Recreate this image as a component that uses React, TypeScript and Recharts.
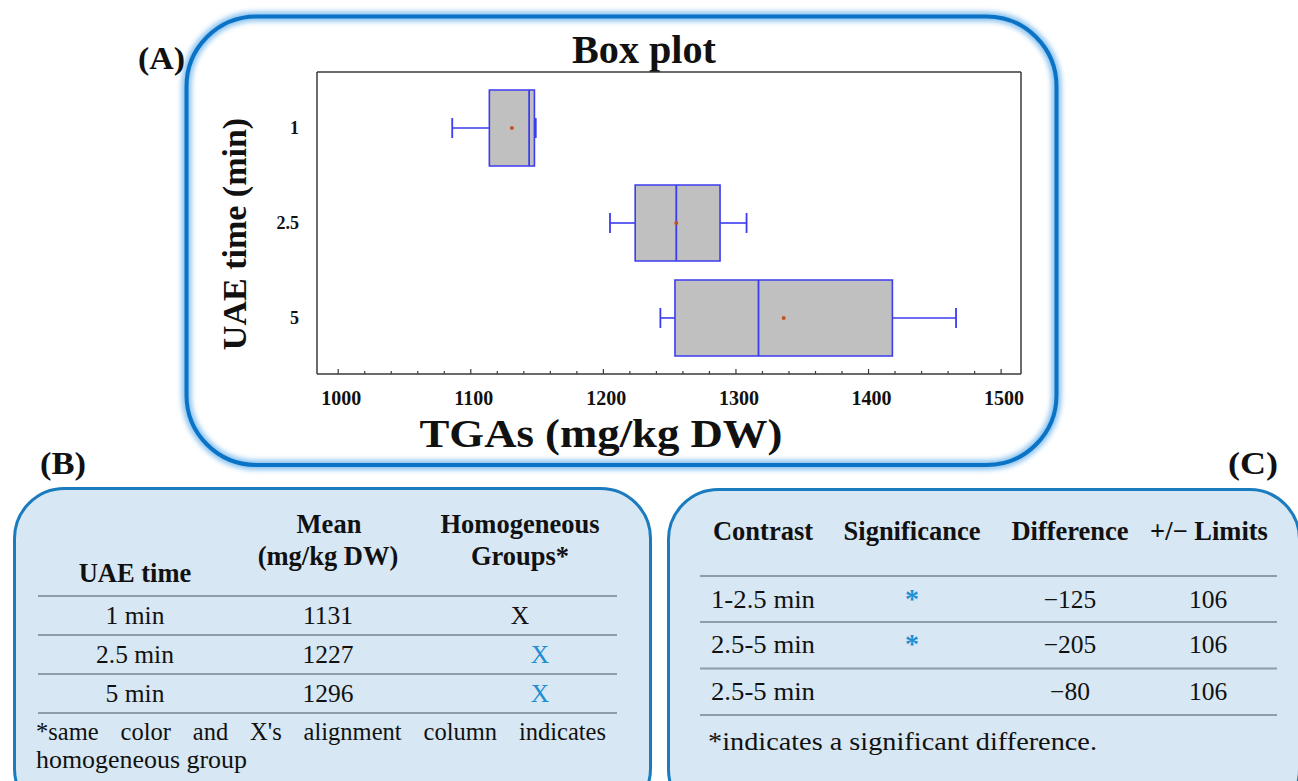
import React from "react";
import {
  ComposedChart,
  XAxis,
  YAxis,
  Scatter,
  ReferenceArea,
  ReferenceLine,
} from "recharts";

// ---------- data ----------
const uaeTimes = ["1", "2.5", "5"];
const whiskerLow = [1086, 1205, 1243];
const q1Vals = [1114, 1224, 1254];
const medianVals = [1144, 1255, 1317];
const q3Vals = [1148, 1288, 1418];
const whiskerHigh = [1149, 1308, 1466];
const meanVals = [1131, 1255, 1336];

const xTicks = [
  1000, 1020, 1040, 1060, 1080, 1100, 1120, 1140, 1160, 1180, 1200, 1220, 1240,
  1260, 1280, 1300, 1320, 1340, 1360, 1380, 1400, 1420, 1440, 1460, 1480, 1500,
];
const yTicks = [1, 2, 3];

// table B
const tableBTimes = ["1 min", "2.5 min", "5 min"];
const tableBMeans = ["1131", "1227", "1296"];
const tableBGroupsBlue = [false, true, true];

// table C
const contrasts = ["1-2.5 min", "2.5-5 min", "2.5-5 min"];
const significant = [true, true, false];
const differences = ["\u2212125", "\u2212205", "\u221280"];
const limits = ["106", "106", "106"];

const SERIF = "'Liberation Serif', 'Times New Roman', serif";
const BOX_STROKE = "#3b3bef";
const FRAME = "#3a3a3a";
const BLUE_TXT = "#1f8fd2";

const chartData = uaeTimes.map((t, i) => ({ x: meanVals[i], y: i + 1, t }));

const BottomTick = (props: any) => {
  const { x, y, payload } = props;
  const v = payload.value;
  const major = v % 100 === 0;
  return (
    <g>
      <line x1={x} x2={x} y1={y} y2={y - (major ? 5 : 3)} stroke={FRAME} strokeWidth={1.2} />
      {major && (
        <text
          x={x + 3}
          y={y + 31}
          textAnchor="middle"
          fontFamily={SERIF}
          fontWeight="bold"
          fontSize={20}
          fill="#111"
        >
          {v}
        </text>
      )}
    </g>
  );
};

const TopTick = (props: any) => {
  const { x, y, payload } = props;
  const major = payload.value % 100 === 0;
  return (
    <line x1={x} x2={x} y1={y} y2={y + (major ? 5 : 3)} stroke={FRAME} strokeWidth={1.2} />
  );
};

const MeanDot = (props: any) => {
  const { cx, cy } = props;
  return <circle cx={cx} cy={cy} r={2} fill="#c4521f" />;
};

function BoxPlot() {
  const h = 0.4;
  const cap = 0.105;
  return (
    <ComposedChart
      width={874}
      height={452}
      data={chartData}
      margin={{ top: 47, right: 28, bottom: 43, left: 82 }}
    >
      <XAxis
        type="number"
        dataKey="x"
        domain={[984, 1515]}
        allowDataOverflow
        ticks={xTicks}
        interval={0}
        tickSize={0}
        tickMargin={0}
        tickLine={false}
        height={50}
        axisLine={{ stroke: FRAME, strokeWidth: 1.5 }}
        tick={<BottomTick />}
      />
      <XAxis
        xAxisId="top"
        orientation="top"
        type="number"
        domain={[984, 1515]}
        allowDataOverflow
        ticks={xTicks}
        interval={0}
        tickSize={0}
        tickMargin={0}
        tickLine={false}
        height={10}
        axisLine={{ stroke: FRAME, strokeWidth: 1.5 }}
        tick={<TopTick />}
      />
      <YAxis
        type="number"
        dataKey="y"
        domain={[0.41, 3.59]}
        allowDataOverflow
        reversed
        ticks={yTicks}
        interval={0}
        width={50}
        tickLine={false}
        tickMargin={12}
        axisLine={{ stroke: FRAME, strokeWidth: 1.5 }}
        tickFormatter={(v: number) => uaeTimes[v - 1]}
        tick={{ fontFamily: SERIF, fontWeight: "bold", fontSize: 18, fill: "#111" }}
      />
      <YAxis
        yAxisId="right"
        orientation="right"
        type="number"
        domain={[0.41, 3.59]}
        allowDataOverflow
        reversed
        width={10}
        tick={false}
        tickLine={false}
        axisLine={{ stroke: FRAME, strokeWidth: 1.5 }}
      />
      {uaeTimes.map((t, i) => {
        const p = i + 1;
        return (
          <ReferenceArea
            key={"box" + t}
            x1={q1Vals[i]}
            x2={q3Vals[i]}
            y1={p - h}
            y2={p + h}
            fill="#c0c0c0"
            fillOpacity={1}
            stroke={BOX_STROKE}
            strokeWidth={1.6}
          />
        );
      })}
      {uaeTimes.map((t, i) => {
        const p = i + 1;
        return (
          <ReferenceLine
            key={"med" + t}
            segment={[
              { x: medianVals[i], y: p - h },
              { x: medianVals[i], y: p + h },
            ]}
            stroke={BOX_STROKE}
            strokeWidth={1.8}
          />
        );
      })}
      {uaeTimes.map((t, i) => {
        const p = i + 1;
        return (
          <ReferenceLine
            key={"wl" + t}
            segment={[
              { x: whiskerLow[i], y: p },
              { x: q1Vals[i], y: p },
            ]}
            stroke={BOX_STROKE}
            strokeWidth={1.6}
          />
        );
      })}
      {uaeTimes.map((t, i) => {
        const p = i + 1;
        return (
          <ReferenceLine
            key={"wh" + t}
            segment={[
              { x: q3Vals[i], y: p },
              { x: whiskerHigh[i], y: p },
            ]}
            stroke={BOX_STROKE}
            strokeWidth={1.6}
          />
        );
      })}
      {uaeTimes.map((t, i) => {
        const p = i + 1;
        return (
          <ReferenceLine
            key={"cl" + t}
            segment={[
              { x: whiskerLow[i], y: p - cap },
              { x: whiskerLow[i], y: p + cap },
            ]}
            stroke={BOX_STROKE}
            strokeWidth={1.8}
          />
        );
      })}
      {uaeTimes.map((t, i) => {
        const p = i + 1;
        return (
          <ReferenceLine
            key={"ch" + t}
            segment={[
              { x: whiskerHigh[i], y: p - cap },
              { x: whiskerHigh[i], y: p + cap },
            ]}
            stroke={BOX_STROKE}
            strokeWidth={1.8}
          />
        );
      })}
      <Scatter data={chartData} dataKey="x" shape={<MeanDot />} isAnimationActive={false} />
    </ComposedChart>
  );
}

export default function App() {
  const bRules = [596, 635, 674, 713];
  const bRowBase = [624, 663, 702];
  const cRules = [576, 622, 668.5, 715];
  const cRowBase = [608, 653, 700];
  const HB = 26.5; // bold header size
  const RS = 25.5; // row text size
  return (
    <div
      style={{
        position: "absolute",
        left: 0,
        top: 0,
        width: 1298,
        height: 781,
        overflow: "hidden",
        background: "#fff",
      }}
    >
      <svg width={1298} height={781} style={{ position: "absolute", left: 0, top: 0 }}>
        <defs>
          <filter id="glow" x="-5%" y="-5%" width="110%" height="110%">
            <feGaussianBlur stdDeviation="2.5" />
          </filter>
        </defs>
        {/* Panel A */}
        <rect x={186.5} y={16.5} width={870} height={448.5} rx={70} fill="#fff" />
        <rect
          x={186.5}
          y={16.5}
          width={870}
          height={448.5}
          rx={70}
          fill="none"
          stroke="#8cc4f0"
          strokeWidth={10}
          filter="url(#glow)"
        />
        <rect
          x={186.5}
          y={16.5}
          width={870}
          height={448.5}
          rx={70}
          fill="none"
          stroke="#0b73c6"
          strokeWidth={4}
        />
        <text
          x={138}
          y={69}
          fontFamily={SERIF}
          fontWeight="bold"
          fontSize={31}
          fill="#111"
          textLength={47}
          lengthAdjust="spacingAndGlyphs"
        >
          (A)
        </text>
        <text
          x={644}
          y={63}
          textAnchor="middle"
          fontFamily={SERIF}
          fontWeight="bold"
          fontSize={39}
          fill="#111"
          textLength={144}
          lengthAdjust="spacingAndGlyphs"
        >
          Box plot
        </text>
        <text
          x={246}
          y={234}
          transform="rotate(-90, 246, 234)"
          textAnchor="middle"
          fontFamily={SERIF}
          fontWeight="bold"
          fontSize={34}
          fill="#111"
        >
          UAE time (min)
        </text>
        <text
          x={601}
          y={447}
          textAnchor="middle"
          fontFamily={SERIF}
          fontWeight="bold"
          fontSize={39}
          fill="#111"
          textLength={363}
          lengthAdjust="spacingAndGlyphs"
        >
          TGAs (mg/kg DW)
        </text>

        {/* Panel B */}
        <text
          x={40}
          y={474}
          fontFamily={SERIF}
          fontWeight="bold"
          fontSize={31}
          fill="#111"
          textLength={46}
          lengthAdjust="spacingAndGlyphs"
        >
          (B)
        </text>
        <rect
          x={14.5}
          y={488.5}
          width={636}
          height={330}
          rx={50}
          fill="#d7e7f4"
          stroke="#1a7bbf"
          strokeWidth={3}
        />
        <g fontFamily={SERIF} fill="#111">
          <text x={329} y={533} textAnchor="middle" fontWeight="bold" fontSize={HB}>
            Mean
          </text>
          <text x={328} y={565} textAnchor="middle" fontWeight="bold" fontSize={HB}>
            (mg/kg DW)
          </text>
          <text x={520} y={533} textAnchor="middle" fontWeight="bold" fontSize={HB}>
            Homogeneous
          </text>
          <text x={520} y={565} textAnchor="middle" fontWeight="bold" fontSize={HB}>
            Groups*
          </text>
          <text x={135} y={582} textAnchor="middle" fontWeight="bold" fontSize={HB}>
            UAE time
          </text>
          {bRules.map((y) => (
            <line key={"br" + y} x1={38} x2={617} y1={y} y2={y} stroke="#8e9cab" strokeWidth={2} />
          ))}
          {tableBTimes.map((t, i) => (
            <g key={"brow" + t}>
              <text x={135} y={bRowBase[i]} textAnchor="middle" fontSize={RS}>
                {t}
              </text>
              <text x={328} y={bRowBase[i]} textAnchor="middle" fontSize={RS}>
                {tableBMeans[i]}
              </text>
              <text
                x={tableBGroupsBlue[i] ? 540 : 520}
                y={bRowBase[i]}
                textAnchor="middle"
                fontSize={RS}
                fill={tableBGroupsBlue[i] ? BLUE_TXT : "#111"}
              >
                X
              </text>
            </g>
          ))}
          <text x={36} y={768} fontSize={25} textLength={211} lengthAdjust="spacingAndGlyphs">
            homogeneous group
          </text>
        </g>

        {/* Panel C */}
        <text
          x={1228}
          y={474}
          fontFamily={SERIF}
          fontWeight="bold"
          fontSize={31}
          fill="#111"
          textLength={50}
          lengthAdjust="spacingAndGlyphs"
        >
          (C)
        </text>
        <rect
          x={668.5}
          y={489.5}
          width={631}
          height={330}
          rx={50}
          fill="#d7e7f4"
          stroke="#1a7bbf"
          strokeWidth={3}
        />
        <g fontFamily={SERIF} fill="#111">
          <text x={763} y={540} textAnchor="middle" fontWeight="bold" fontSize={HB}>
            Contrast
          </text>
          <text x={912} y={540} textAnchor="middle" fontWeight="bold" fontSize={HB}>
            Significance
          </text>
          <text x={1070} y={540} textAnchor="middle" fontWeight="bold" fontSize={HB}>
            Difference
          </text>
          <text x={1209} y={540} textAnchor="middle" fontWeight="bold" fontSize={HB}>
            +/− Limits
          </text>
          {cRules.map((y) => (
            <line key={"cr" + y} x1={700} x2={1277} y1={y} y2={y} stroke="#8e9cab" strokeWidth={2} />
          ))}
          {contrasts.map((c, i) => (
            <g key={"crow" + i}>
              <text x={711} y={cRowBase[i]} fontSize={RS} textLength={104} lengthAdjust="spacingAndGlyphs">
                {c}
              </text>
              {significant[i] && (
                <text
                  x={912}
                  y={cRowBase[i]}
                  textAnchor="middle"
                  fontWeight="bold"
                  fontSize={28}
                  fill={BLUE_TXT}
                >
                  *
                </text>
              )}
              <text x={1070} y={cRowBase[i]} textAnchor="middle" fontSize={RS}>
                {differences[i]}
              </text>
              <text x={1208} y={cRowBase[i]} textAnchor="middle" fontSize={RS}>
                {limits[i]}
              </text>
            </g>
          ))}
          <text x={708} y={750} fontSize={25} textLength={389} lengthAdjust="spacingAndGlyphs">
            *indicates a significant difference.
          </text>
        </g>
      </svg>
      <div
        style={{
          position: "absolute",
          left: 36,
          top: 719.5,
          width: 570,
          fontFamily: SERIF,
          fontSize: 24.5,
          lineHeight: 1,
          color: "#111",
          textAlign: "justify",
          textAlignLast: "justify",
          whiteSpace: "nowrap",
        }}
      >
        *same color and X's alignment column indicates
      </div>
      <div style={{ position: "absolute", left: 185, top: 15 }}>
        <BoxPlot />
      </div>
    </div>
  );
}
